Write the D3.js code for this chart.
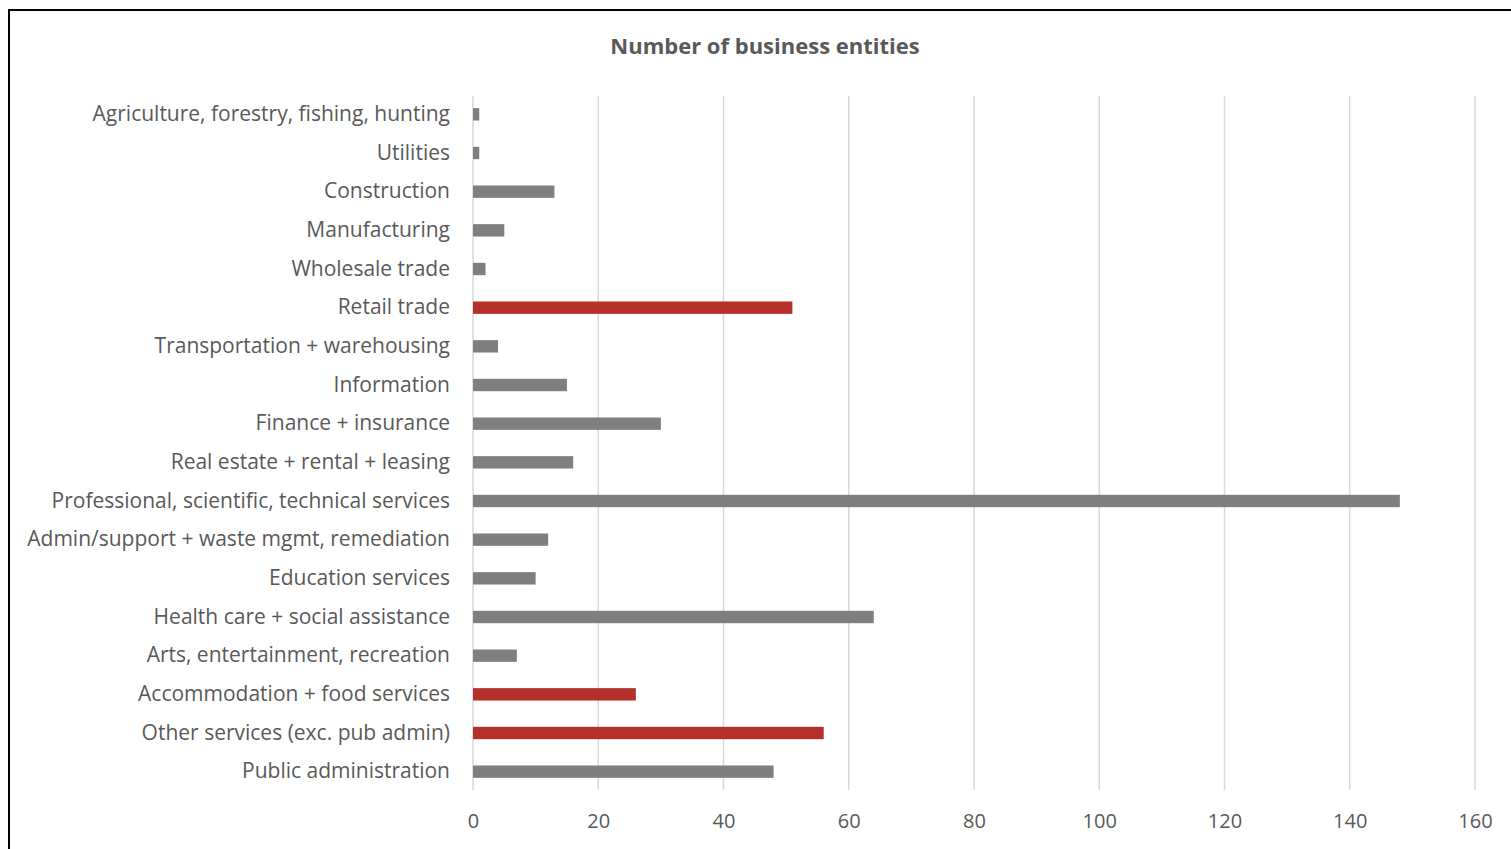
<!DOCTYPE html>
<html>
<head>
<meta charset="utf-8">
<script src="https://cdn.jsdelivr.net/npm/d3@7"></script>
<style>
  html, body { margin: 0; padding: 0; background: #fff; }
  svg { display: block; }
</style>
</head>
<body>
<svg id="chart" width="1511" height="849"></svg>
<script>
// Industry categories, top to bottom
const categories = [
  "Agriculture, forestry, fishing, hunting",
  "Utilities",
  "Construction",
  "Manufacturing",
  "Wholesale trade",
  "Retail trade",
  "Transportation + warehousing",
  "Information",
  "Finance + insurance",
  "Real estate + rental + leasing",
  "Professional, scientific, technical services",
  "Admin/support + waste mgmt, remediation",
  "Education services",
  "Health care + social assistance",
  "Arts, entertainment, recreation",
  "Accommodation + food services",
  "Other services (exc. pub admin)",
  "Public administration"
];

// Number of business entities per category
const counts = [1, 1, 13, 5, 2, 51, 4, 15, 30, 16, 148, 12, 10, 64, 7, 26, 56, 48];

// Categories highlighted in red
const highlighted = ["Retail trade", "Accommodation + food services", "Other services (exc. pub admin)"];

const xTicks = [0, 20, 40, 60, 80, 100, 120, 140, 160];
const title = "Number of business entities";

const svg = d3.select("#chart");
const W = 1511, H = 849;
const plot = { left: 473, right: 1475, top: 95, bottom: 791 };
const font = "'Open Sans', sans-serif";

// Outer frame
svg.append("rect")
  .attr("x", 9).attr("y", 10)
  .attr("width", W + 10).attr("height", H + 10)
  .attr("fill", "none").attr("stroke", "#000").attr("stroke-width", 2);

const x = d3.scaleLinear().domain([0, 160]).range([plot.left, plot.right]);
const y = d3.scaleBand().domain(categories).range([plot.top, plot.bottom]).paddingInner(0.68).paddingOuter(0.34);

// Vertical gridlines
svg.append("g")
  .selectAll("line")
  .data(xTicks)
  .join("line")
  .attr("x1", d => x(d)).attr("x2", d => x(d))
  .attr("y1", plot.top + 1).attr("y2", plot.bottom - 1)
  .attr("stroke", "#d9d9d9").attr("stroke-width", 1.5);

// Bars
svg.append("g")
  .selectAll("rect")
  .data(categories)
  .join("rect")
  .attr("x", x(0))
  .attr("y", d => y(d))
  .attr("width", (d, i) => x(counts[i]) - x(0))
  .attr("height", y.bandwidth())
  .attr("fill", d => highlighted.includes(d) ? "#b5302a" : "#7f7f7f");

// Category axis labels
const yAxis = d3.axisLeft(y).tickSize(0).tickPadding(23);
const gy = svg.append("g").attr("transform", `translate(${plot.left},0)`).call(yAxis);
gy.select(".domain").remove();
gy.selectAll("text")
  .attr("font-family", font).attr("font-size", 21).attr("fill", "#595959");

// Value axis labels
const xAxis = d3.axisBottom(x).tickValues(xTicks).tickSize(0).tickPadding(23);
const gx = svg.append("g").attr("transform", `translate(0,${plot.bottom})`).call(xAxis);
gx.select(".domain").remove();
gx.selectAll("text")
  .attr("font-family", font).attr("font-size", 20).attr("fill", "#595959");

// Title
svg.append("text")
  .attr("x", 765).attr("y", 54)
  .attr("text-anchor", "middle")
  .attr("font-family", font).attr("font-size", 22).attr("font-weight", "bold")
  .attr("fill", "#595959")
  .text(title);
</script>
</body>
</html>
